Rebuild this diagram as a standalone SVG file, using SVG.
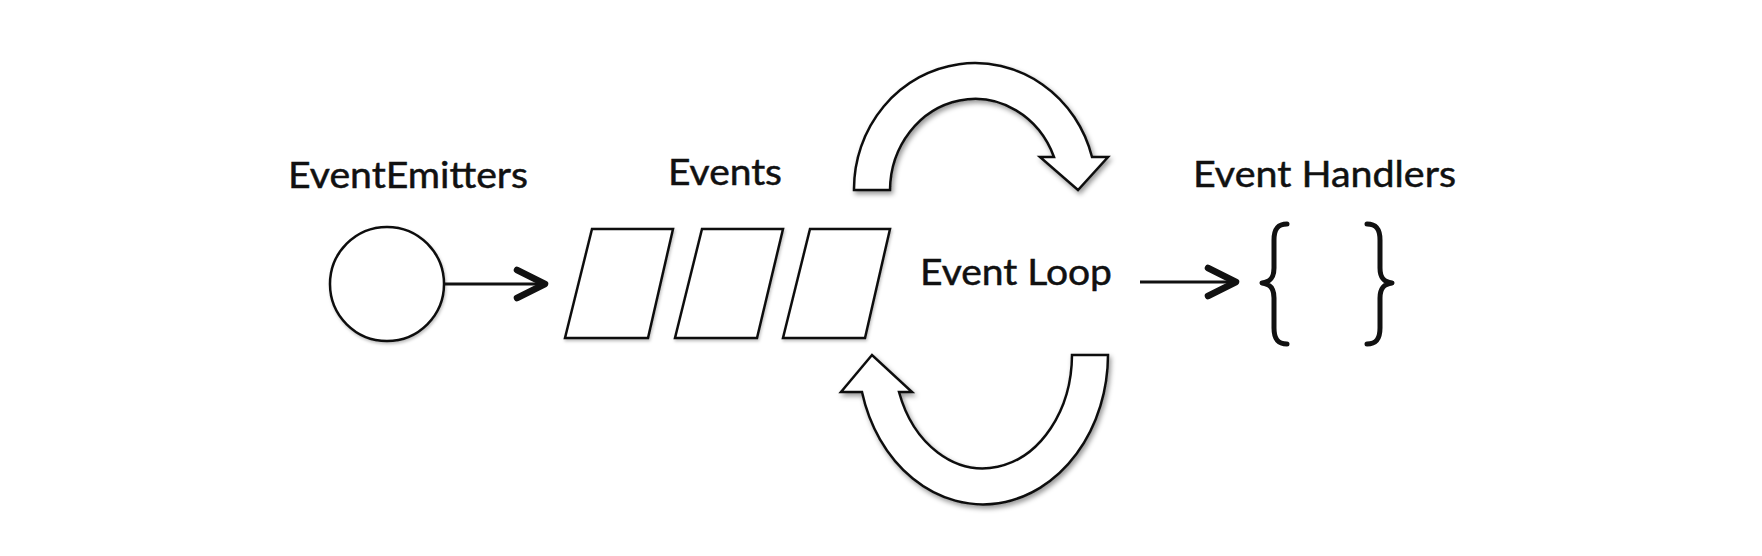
<svg xmlns="http://www.w3.org/2000/svg" width="1762" height="556" viewBox="0 0 1762 556">
<defs>
<style>
text{font-family:"Lato","Open Sans","Liberation Sans",sans-serif;font-size:37px;fill:#111;stroke:#111;stroke-width:0.5;}
.shape{fill:#fff;stroke:#111;stroke-width:2.5;stroke-linejoin:miter;}
.line{fill:none;stroke:#111;stroke-width:3;}
.brace{fill:none;stroke:#111;stroke-width:5;stroke-linecap:round;stroke-linejoin:round;}
</style>
<filter id="sh" x="-20%" y="-20%" width="140%" height="140%">
<feDropShadow dx="2" dy="3" stdDeviation="2.5" flood-color="#000" flood-opacity="0.4"/>
</filter>
<filter id="sh2" x="-20%" y="-20%" width="140%" height="140%">
<feDropShadow dx="1" dy="2" stdDeviation="1.5" flood-color="#000" flood-opacity="0.25"/>
</filter>
<marker id="chev" markerUnits="userSpaceOnUse" viewBox="0 0 40 40" markerWidth="40" markerHeight="40" refX="34" refY="20" orient="auto">
<path d="M 6 6 L 34 20 L 6 34" fill="none" stroke="#111" stroke-width="6.5" stroke-linecap="round" stroke-linejoin="round"/>
</marker>
</defs>
<rect width="1762" height="556" fill="#fff"/>

<g id="emitters">
<text x="288" y="188" textLength="240" lengthAdjust="spacingAndGlyphs">EventEmitters</text>
<circle cx="387" cy="284" r="57" class="shape" filter="url(#sh2)"/>
</g>

<g id="events">
<text x="668" y="185" textLength="114" lengthAdjust="spacingAndGlyphs">Events</text>
<polygon class="shape" filter="url(#sh2)" points="592,229 673,229 648,338 565,338"/>
<polygon class="shape" filter="url(#sh2)" points="702,229 783,229 757,338 675,338"/>
<polygon class="shape" filter="url(#sh2)" points="810,229 890,229 865,338 783,338"/>
</g>

<g id="event-loop">
<text x="920" y="285" textLength="192" lengthAdjust="spacingAndGlyphs">Event Loop</text>
<path class="shape" filter="url(#sh)" d="M 854 190 A 121 126 0 0 1 1092 157 L 1108 157 L 1078 190 L 1040 157 L 1054 157 A 85 92 0 0 0 890 190 Z"/>
<path class="shape" filter="url(#sh)" d="M 1072 355 L 1108 355 A 125 150 0 0 1 862 392 L 841 392 L 872 355 L 912 392 L 899 392 A 89 114 0 0 0 1072 355 Z"/>
</g>

<g id="handlers">
<text x="1193" y="187" textLength="263" lengthAdjust="spacingAndGlyphs">Event Handlers</text>
<path class="brace" d="M 1287 224 C 1277 224 1274 230 1274 240 L 1274 268 C 1274 278 1270 282 1262 283 C 1270 284 1274 288 1274 298 L 1274 328 C 1274 338 1277 344 1287 344"/>
<path class="brace" transform="matrix(-1 0 0 1 2654 0)" d="M 1287 224 C 1277 224 1274 230 1274 240 L 1274 268 C 1274 278 1270 282 1262 283 C 1270 284 1274 288 1274 298 L 1274 328 C 1274 338 1277 344 1287 344"/>
</g>

<g id="connectors">
<line class="line" x1="445" y1="284" x2="545" y2="284" marker-end="url(#chev)"/>
<line class="line" x1="1140" y1="282" x2="1236" y2="282" marker-end="url(#chev)"/>
</g>
</svg>
